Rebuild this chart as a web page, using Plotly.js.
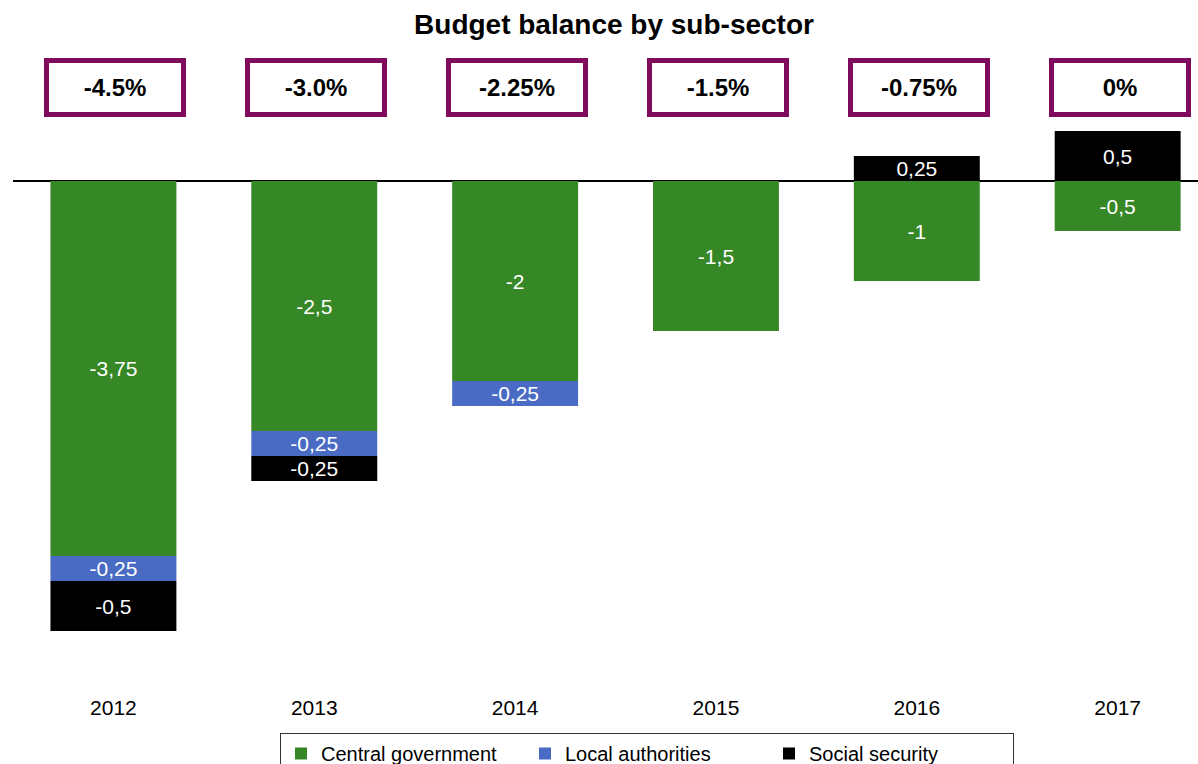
<!DOCTYPE html>
<html>
<head>
<meta charset="utf-8">
<script src="https://cdn.plot.ly/plotly-3.0.1.min.js"></script>
<style>html,body{margin:0;padding:0;background:#fff;}#chart{width:1198px;height:764px;}</style>
</head>
<body>
<div id="chart"></div>
<script>
const years = ["2012", "2013", "2014", "2015", "2016", "2017"];
const centralGov = [-3.75, -2.5, -2, -1.5, -1, -0.5];
const localAuth = [-0.25, -0.25, -0.25, null, null, null];
const socialSec = [-0.5, -0.25, null, null, 0.25, 0.5];
const totals = ["-4.5%", "-3.0%", "-2.25%", "-1.5%", "-0.75%", "0%"];

const FONT = '"Liberation Sans", Arial, sans-serif';
const fmt = v => (v === null ? "" : String(v).replace(".", ","));

function series(name, vals, color) {
  return {
    type: "bar", name: name, x: years, y: vals,
    marker: {color: color},
    text: vals.map(fmt),
    textposition: "inside",
    insidetextanchor: "middle",
    constraintext: "none",
    textangle: 0,
    insidetextfont: {color: "#ffffff", size: 21, family: FONT},
    hoverinfo: "skip"
  };
}

const data = [
  series("Central government", centralGov, "#368726"),
  series("Local authorities", localAuth, "#4a6bc4"),
  series("Social security", socialSec, "#000000")
];

const annotations = years.map((yr, i) => ({
  x: i, xref: "x", y: 0.913, yref: "paper",
  text: "<b>" + totals[i] + "</b>",
  showarrow: false,
  font: {size: 24, color: "#000000", family: FONT},
  width: 132, height: 49,
  bordercolor: "#800a5b", borderwidth: 5, borderpad: 0,
  bgcolor: "#ffffff",
  xanchor: "center", yanchor: "middle",
  xshift: 2
}));

const layout = {
  width: 1198, height: 764,
  margin: {l: 13, r: 0, t: 31, b: 83},
  paper_bgcolor: "#ffffff", plot_bgcolor: "#ffffff",
  font: {family: FONT, color: "#000"},
  title: {text: "<b>Budget balance by sub-sector</b>", font: {size: 28, family: FONT, color: "#000"},
          x: 614/1198, xanchor: "center", y: 1 - 24/764, yanchor: "middle", yref: "container"},
  barmode: "relative",
  bargap: 0.373,
  showlegend: true,
  legend: {orientation: "h", xref: "container", yref: "container", x: 280/1198, xanchor: "left",
           y: 1 - 733/764, yanchor: "top", bordercolor: "#333", borderwidth: 1,
           entrywidth: 199, entrywidthmode: "pixels",
           font: {size: 20, family: FONT, color: "#000"}, traceorder: "normal", itemwidth: 30},
  xaxis: {type: "category", range: [-0.5, 5.4], showgrid: false, zeroline: false, showline: false,
          ticks: "outside", ticklen: 8, tickcolor: "rgba(0,0,0,0)",
          tickfont: {size: 21, family: FONT, color: "#000"}, fixedrange: true},
  yaxis: {range: [-5, 1.5], showgrid: false, showticklabels: false, ticks: "",
          zeroline: true, zerolinecolor: "#000", zerolinewidth: 1.3, showline: false, fixedrange: true},
  annotations: annotations
};

Plotly.newPlot("chart", data, layout, {displayModeBar: false, staticPlot: true});
</script>
</body>
</html>
